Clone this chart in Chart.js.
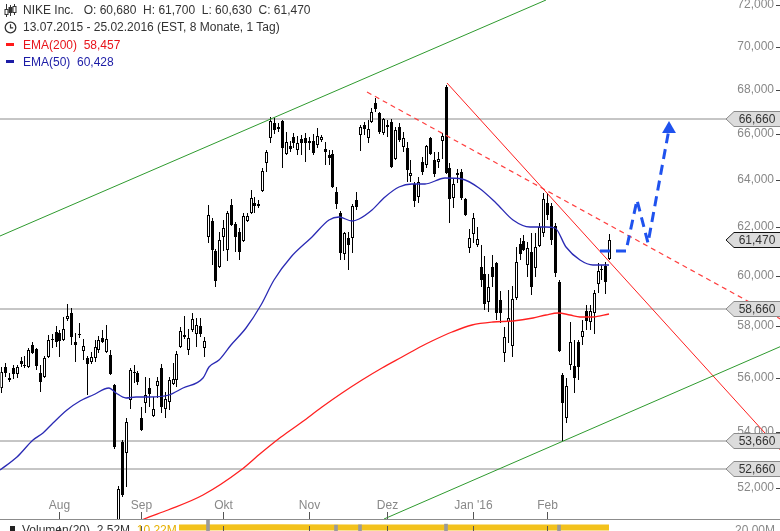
<!DOCTYPE html>
<html>
<head>
<meta charset="utf-8">
<script src="https://cdn.jsdelivr.net/npm/chart.js@4.4.1/dist/chart.umd.min.js"></script>
<style>
  body { margin: 0; background: #fff; }
  #wrap { position: relative; width: 780px; height: 531px; overflow: hidden; font-family: "Liberation Sans", Arial, sans-serif; }
  #chart { position: absolute; left: 0; top: 0; }
  .hd { position: absolute; left: 23px; font-size: 12px; line-height: 14px; white-space: pre; color: #333; }
  .ico { position: absolute; }
</style>
</head>
<body>
<div id="wrap">
  <canvas id="chart" width="780" height="531"></canvas>

  <svg class="ico" style="left:4px;top:4px" width="13" height="13" viewBox="0 0 13 13">
    <g stroke="#333" stroke-width="1" fill="#fff">
      <line x1="2.5" y1="0" x2="2.5" y2="13"/><rect x="1" y="5.5" width="3" height="5"/>
      <line x1="6.5" y1="1" x2="6.5" y2="12"/><rect x="5" y="3.5" width="3" height="5" fill="#333"/>
      <line x1="10.5" y1="0" x2="10.5" y2="11"/><rect x="9" y="2.5" width="3" height="6"/>
    </g>
  </svg>
  <div class="hd" style="top:3px">NIKE Inc.   O: 60,680  H: 61,700  L: 60,630  C: 61,470</div>

  <svg class="ico" style="left:4px;top:21px" width="13" height="13" viewBox="0 0 13 13">
    <circle cx="6.5" cy="6.5" r="5.3" fill="none" stroke="#333" stroke-width="1.3"/>
    <path d="M6.5 3.2 V6.8 H9.2" fill="none" stroke="#333" stroke-width="1.2"/>
  </svg>
  <div class="hd" style="top:20px">13.07.2015 - 25.02.2016 (EST, 8 Monate, 1 Tag)</div>

  <div class="ico" style="left:6px;top:43px;width:8px;height:3px;background:#ff1a1a"></div>
  <div class="hd" style="top:38px;color:#e8141b">EMA(200)  58,457</div>

  <div class="ico" style="left:6px;top:60px;width:8px;height:3px;background:#1c1ca6"></div>
  <div class="hd" style="top:55px;color:#1c1ca6">EMA(50)  60,428</div>

  <div class="ico" style="left:10px;top:526px;width:5px;height:5px;background:#222"></div>
  <div class="hd" style="top:523px;left:22px">Volumen(20)  2,52M  <span style="color:#e6b000">10,22M</span></div>
  <div class="hd" style="top:523px;left:735px;color:#888">20,00M</div>
</div>

<script>
// NIKE Inc. daily candles 13.07.2015 - 25.02.2016: [open, high, low, close]
const ohlc = [
  [55.62, 56.41, 55.43, 56.22], [56.41, 56.57, 56.03, 56.19], [56.00, 56.19, 55.85, 55.92], [56.38, 56.49, 55.96, 56.15],
  [56.15, 56.49, 56.00, 56.41], [56.64, 56.80, 56.41, 56.53], [56.49, 56.83, 56.38, 56.45], [56.41, 57.14, 56.38, 57.06],
  [57.26, 57.37, 56.91, 56.95], [57.10, 57.14, 56.30, 56.45], [56.19, 56.49, 55.47, 55.85], [56.03, 56.83, 56.00, 56.76],
  [56.80, 57.64, 56.76, 57.45], [57.45, 57.68, 57.14, 57.49], [57.76, 57.99, 57.18, 57.37], [57.72, 57.84, 56.80, 57.41],
  [57.45, 58.35, 57.41, 57.88], [58.27, 58.86, 58.19, 58.39], [58.50, 58.70, 57.26, 57.57], [57.37, 57.72, 56.60, 57.26],
  [57.64, 58.11, 57.53, 57.68], [57.03, 57.49, 56.68, 57.22], [56.76, 56.83, 55.36, 56.53], [56.60, 56.99, 56.53, 56.80],
  [56.76, 57.45, 56.60, 57.18], [57.06, 57.60, 56.95, 57.45], [57.53, 57.84, 57.33, 57.37], [56.99, 58.03, 56.95, 57.49],
  [56.87, 57.06, 56.11, 56.15], [55.73, 55.77, 53.38, 53.45], [50.82, 52.07, 50.00, 51.96], [53.63, 53.71, 51.68, 51.75],
  [53.24, 54.51, 52.03, 54.36], [55.17, 56.38, 54.84, 56.30], [56.22, 56.49, 55.81, 56.19], [56.19, 56.26, 55.73, 55.85],
  [54.51, 54.91, 54.03, 54.07], [55.06, 56.03, 54.69, 55.36], [55.62, 56.00, 54.91, 55.40], [54.58, 55.28, 54.54, 54.84],
  [55.70, 56.03, 55.25, 55.88], [56.38, 56.53, 54.69, 54.91], [54.84, 55.47, 54.51, 55.21], [55.10, 56.03, 54.80, 55.92],
  [55.77, 56.57, 55.73, 55.96], [55.92, 57.03, 55.66, 56.91], [57.18, 57.95, 57.14, 57.80], [57.64, 58.39, 57.49, 57.57],
  [57.06, 57.88, 56.87, 57.53], [57.84, 58.50, 57.76, 58.27], [57.68, 58.31, 57.18, 58.03], [57.99, 58.31, 57.57, 57.68],
  [57.14, 57.57, 56.80, 57.41], [61.58, 62.92, 61.33, 62.50], [62.25, 62.37, 60.43, 61.04], [61.00, 61.08, 59.54, 59.78],
  [60.35, 61.79, 60.31, 61.45], [61.58, 62.29, 61.00, 61.95], [61.04, 62.67, 60.59, 62.58], [62.92, 63.18, 62.04, 62.08],
  [62.12, 62.20, 60.96, 61.58], [61.79, 61.95, 60.63, 60.96], [61.41, 62.58, 61.37, 62.46], [62.25, 62.58, 62.20, 62.46],
  [62.58, 63.56, 62.54, 63.22], [63.01, 63.26, 62.58, 62.88], [62.96, 63.13, 62.79, 62.88], [63.52, 64.51, 63.47, 64.38],
  [64.73, 65.30, 64.34, 65.21], [65.83, 66.77, 65.61, 66.59], [66.50, 66.72, 66.00, 66.18], [66.32, 66.50, 66.09, 66.23],
  [66.59, 66.63, 64.51, 65.39], [65.12, 66.09, 65.08, 65.65], [65.47, 65.69, 65.21, 65.34], [65.87, 66.05, 65.39, 65.61],
  [65.30, 65.92, 65.08, 65.61], [65.78, 65.96, 65.08, 65.61], [65.83, 66.05, 64.77, 65.61], [65.61, 65.87, 65.30, 65.69],
  [65.69, 66.00, 65.08, 65.17], [65.52, 66.27, 65.39, 65.92], [65.74, 65.96, 65.65, 65.87], [65.34, 65.65, 64.64, 65.21],
  [65.08, 65.30, 64.64, 64.95], [65.12, 65.30, 63.65, 63.69], [63.47, 63.69, 62.75, 62.96], [62.58, 62.67, 60.63, 60.92],
  [60.88, 61.79, 60.63, 61.74], [61.54, 61.79, 60.22, 61.25], [61.54, 62.96, 60.92, 62.88], [63.13, 63.47, 62.71, 62.84],
  [65.96, 66.41, 65.25, 66.32], [66.41, 66.54, 65.96, 66.23], [65.83, 66.63, 65.61, 66.23], [66.54, 67.17, 66.50, 66.99],
  [67.40, 67.63, 66.99, 67.13], [66.95, 66.99, 66.00, 66.09], [66.05, 66.72, 65.96, 66.68], [66.41, 66.63, 65.87, 66.32],
  [66.54, 66.68, 64.51, 64.55], [64.90, 66.32, 64.86, 66.18], [66.32, 66.50, 65.65, 65.74], [65.43, 66.09, 65.21, 65.83],
  [65.39, 65.65, 63.90, 64.42], [64.16, 64.86, 63.90, 64.29], [63.82, 63.90, 62.84, 63.09], [63.26, 64.12, 63.01, 63.90],
  [64.77, 64.99, 64.21, 64.34], [64.64, 65.52, 64.51, 65.47], [65.83, 65.87, 65.08, 65.12], [64.86, 65.21, 64.12, 64.25],
  [64.77, 65.21, 64.51, 64.90], [65.69, 66.05, 64.90, 65.92], [68.13, 68.22, 64.25, 64.29], [64.51, 64.73, 62.16, 63.18],
  [63.22, 64.08, 62.79, 63.82], [64.29, 64.47, 63.86, 64.21], [64.34, 64.47, 63.13, 63.22], [63.18, 63.22, 62.46, 62.50],
  [61.12, 61.91, 60.92, 61.54], [61.70, 62.58, 61.33, 62.37], [61.25, 61.99, 61.16, 61.50], [60.35, 61.25, 59.54, 59.82],
  [60.06, 60.80, 58.62, 58.86], [58.94, 60.06, 58.54, 59.54], [60.35, 60.84, 59.54, 59.94], [60.51, 60.55, 58.23, 58.50],
  [59.02, 59.38, 58.11, 58.50], [56.95, 57.95, 56.60, 57.57], [58.15, 59.42, 57.33, 58.31], [57.22, 59.58, 56.80, 59.06],
  [59.10, 61.16, 59.02, 60.55], [61.29, 61.54, 60.63, 60.88], [61.41, 61.66, 61.00, 61.04], [60.43, 61.37, 59.94, 61.12],
  [60.96, 61.74, 59.22, 59.54], [60.31, 61.74, 59.94, 61.16], [61.21, 62.16, 61.16, 61.99], [61.74, 63.43, 61.58, 63.18],
  [63.01, 63.43, 62.29, 62.50], [62.88, 63.01, 61.25, 61.45], [62.04, 62.16, 59.94, 60.10], [59.74, 59.82, 56.99, 57.03],
  [56.11, 56.19, 53.67, 55.06], [54.51, 56.00, 54.32, 55.70], [56.49, 58.15, 56.30, 57.37], [56.45, 57.45, 55.43, 56.00],
  [57.37, 57.45, 55.92, 56.41], [57.57, 58.23, 57.26, 57.80], [58.58, 58.82, 57.84, 58.19], [58.15, 58.82, 57.84, 58.58],
  [58.50, 59.42, 57.68, 59.30], [59.66, 60.51, 59.30, 60.18], [60.26, 60.43, 59.82, 60.22], [60.39, 60.55, 59.26, 59.74],
  [60.68, 61.70, 60.63, 61.47]
];

// [candle index, value]
const ema50 = [
  [-0.26, 52.63], [4.12, 53.09], [8.25, 53.71], [10.83, 53.96], [13.41, 54.32], [17.01, 54.80], [20.37, 55.14],
  [23.72, 55.36], [27.58, 55.62], [29.39, 55.43], [31.97, 55.25], [34.55, 55.28], [37.9, 55.28], [43.05, 55.36],
  [46.66, 55.62], [51.82, 56.00], [53.36, 56.41], [55.94, 56.68], [59.03, 57.26], [62.9, 57.91], [66.77, 58.82],
  [70.12, 59.82], [74.5, 60.75], [79.66, 61.58], [84.04, 62.29], [86.62, 62.41], [89.97, 62.25], [91.78, 62.33],
  [95.13, 62.71], [98.48, 63.26], [102.09, 63.69], [105.44, 63.82], [108.79, 63.82], [113.95, 64.08], [118.33, 64.03],
  [122.71, 63.65], [126.84, 63.01], [131.22, 62.29], [135.6, 61.99], [139.73, 61.99], [142.05, 61.95], [144.88, 61.16],
  [148.49, 60.63], [151.84, 60.43], [156, 60.43]
];
const ema200 = [
  [33.26, 50.72], [36.6, 50.92], [42.8, 51.23], [51.8, 51.75], [61.6, 52.63], [66.8, 53.24], [71.9, 53.81],
  [77.1, 54.36], [82.2, 54.91], [87.4, 55.43], [92.5, 55.92], [97.7, 56.38], [102.9, 56.80], [108.0, 57.22],
  [110.6, 57.41], [115.7, 57.76], [120.9, 58.03], [126.1, 58.15], [131.2, 58.19], [136.4, 58.31], [139.7, 58.43],
  [142.8, 58.50], [145.9, 58.43], [148.5, 58.35], [151.8, 58.35], [156, 58.46]
];

const greenUpper = [[-0.26, 61.62], [139.7, 72.24]];
const greenLower = [[98.2, 50.92], [200.8, 57.26]];
const redSolid = [[114.5, 68.31], [200.8, 53.20]];
const redDashed = [[93.8, 67.90], [200.8, 58.19]];
const projection = [[153.6, 61.00], [160.35, 61.00], [163.2, 63.13], [166.0, 61.33], [171.2, 66.23]];

const levels = [66.66, 58.66, 53.66, 52.66];
const levelEnd = 186.9;
const lastClose = 61.47;

const priceTicks = [52, 54, 56, 58, 60, 62, 64, 66, 68, 70, 72];
const monthTicks = [15, 36, 57, 79, 99, 121, 140];
const monthLabels = ['Aug', 'Sep', 'Okt', 'Nov', 'Dez', "Jan '16", 'Feb'];

// volume panel (millions), only the part that shows above the bottom edge
const volMA = [[45.6, 10.4], [70, 10.6], [90, 10.1], [110, 10.3], [130, 10.5], [156, 10.22]];
const volSpikes = [[53, 33.6], [86, 17], [92, 18], [114, 20], [143, 17]];

const FONT = '"Liberation Sans", Arial, sans-serif';
Chart.defaults.font.family = FONT;
Chart.defaults.font.size = 12;

const fmt = v => v.toFixed(3).replace('.', ',');
const pts = arr => arr.map(p => ({ x: p[0], y: p[1] }));
const priceClip = { left: 0, top: 0, right: 8, bottom: -12 };

function lineSet(data, color, extra) {
    return Object.assign({
        type: 'line', data: pts(data), borderColor: color, borderWidth: 1,
        pointRadius: 0, fill: false, clip: priceClip, order: 4
    }, extra || {});
}

const datasets = [];

levels.forEach(v => {
    datasets.push(lineSet([[-0.26, v], [levelEnd, v]], '#8c8c8c', { order: 20 }));
});

datasets.push({
    type: 'line', yAxisID: 'yv', data: pts(volMA), borderColor: '#f3c21c', borderWidth: 6,
    pointRadius: 0, fill: false, order: 19
});
datasets.push({
    type: 'bar', yAxisID: 'yv', data: pts(volSpikes), backgroundColor: '#9a9a9a',
    barThickness: 3, maxBarThickness: 3, grouped: false, order: 18
});

// candles: wick + body as floating bars
datasets.push({
    type: 'bar', candle: true,
    data: ohlc.map((c, i) => ({ x: i, y: [c[2], c[1]] })),
    backgroundColor: '#000',
    barThickness: 1, maxBarThickness: 1, grouped: false, inflateAmount: 0,
    clip: priceClip, order: 12
});
datasets.push({
    type: 'bar', candle: true,
    data: ohlc.map((c, i) => ({ x: i, y: [c[0], c[3]] })),
    backgroundColor: ohlc.map(c => c[3] >= c[0] ? '#ffffff' : '#000000'),
    borderColor: '#000', borderWidth: 1, borderSkipped: false,
    barThickness: 3, maxBarThickness: 3, minBarLength: 1, grouped: false, inflateAmount: 0,
    clip: priceClip, order: 11
});

datasets.push(lineSet(ema200, '#ff2020', { borderWidth: 1.3, cubicInterpolationMode: 'monotone', order: 6 }));
datasets.push(lineSet(ema50, '#2a2ab4', { borderWidth: 1.3, cubicInterpolationMode: 'monotone', order: 6 }));
datasets.push(lineSet(greenUpper, '#2e9a2e'));
datasets.push(lineSet(greenLower, '#2e9a2e'));
datasets.push(lineSet(redSolid, '#ff1f1f'));
datasets.push(lineSet(redDashed, '#ff4040', { borderDash: [5, 4], borderWidth: 1.2 }));
datasets.push(lineSet(projection, '#1f52ee', {
    borderWidth: 3, borderDash: [10, 6], order: 1,
    pointRadius: projection.map((p, i) => i === projection.length - 1 ? 8 : 0),
    pointStyle: 'triangle', pointBackgroundColor: '#1f52ee', pointBorderWidth: 0
}));

// half-pixel shift so the 1px wicks and 3px bodies land on whole pixels
const crispCandles = {
    id: 'crispCandles',
    beforeDatasetDraw(chart, args) {
        if (!chart.data.datasets[args.index].candle) return;
        chart.ctx.save();
        chart.ctx.translate(0.5, 0);
    },
    afterDatasetDraw(chart, args) {
        if (chart.data.datasets[args.index].candle) chart.ctx.restore();
    }
};

// month labels, panel line and price tags
const overlay = {
    id: 'overlay',
    afterDraw(chart) {
        const { ctx } = chart;
        const xs = chart.scales.x, ys = chart.scales.y;
        ctx.save();
        ctx.font = '12px ' + FONT;
        ctx.lineWidth = 1;

        ctx.strokeStyle = '#8c8c8c';
        ctx.beginPath(); ctx.moveTo(0, 519.5); ctx.lineTo(780, 519.5); ctx.stroke();

        ctx.textAlign = 'center';
        ctx.textBaseline = 'middle';
        monthTicks.forEach((idx, k) => {
            const px = Math.round(xs.getPixelForValue(idx)) + 0.5;
            ctx.fillStyle = '#888';
            ctx.fillText(monthLabels[k], px, 506);
            ctx.strokeStyle = '#555';
            ctx.beginPath();
            ctx.moveTo(px, 512); ctx.lineTo(px, 519);
            ctx.moveTo(px, 526); ctx.lineTo(px, 531);
            ctx.stroke();
        });

        const tags = levels.map(v => [v, '#8a8a8a']).concat([[lastClose, '#111']]);
        tags.forEach(([v, stroke]) => {
            const py = Math.round(ys.getPixelForValue(v));
            ctx.beginPath();
            ctx.moveTo(726, py);
            ctx.lineTo(734, py - 7.5);
            ctx.lineTo(781, py - 7.5);
            ctx.lineTo(781, py + 7.5);
            ctx.lineTo(734, py + 7.5);
            ctx.closePath();
            ctx.fillStyle = '#dcdcdc';
            ctx.fill();
            ctx.strokeStyle = stroke;
            ctx.stroke();
            ctx.fillStyle = '#333';
            ctx.fillText(fmt(v), 757, py + 0.5);
        });
        ctx.restore();
    }
};

new Chart(document.getElementById('chart'), {
    type: 'line',
    data: { datasets },
    options: {
        responsive: false,
        devicePixelRatio: 1,
        animation: false,
        events: [],
        layout: { padding: 0, autoPadding: false },
        plugins: { legend: { display: false }, tooltip: { enabled: false } },
        scales: {
            x: { type: 'linear', display: false, offset: false, alignToPixels: true, min: -0.258, max: 198.76 },
            y: {
                type: 'logarithmic',
                position: 'right',
                alignToPixels: true,
                min: 50.514,
                max: 72.243,
                afterBuildTicks: s => { s.ticks = priceTicks.map(v => ({ value: v })); },
                afterFit: s => { s.paddingTop = 0; s.paddingBottom = 0; },
                border: { display: false },
                grid: { drawOnChartArea: false, drawTicks: true, tickLength: 8, tickColor: '#444', color: 'transparent' },
                ticks: { mirror: true, padding: -2, autoSkip: false, color: '#888', font: { size: 12 }, callback: v => fmt(v) }
            },
            yv: { type: 'linear', display: false, min: 0, max: 1550 }
        }
    },
    plugins: [crispCandles, overlay]
});
</script>
</body>
</html>
